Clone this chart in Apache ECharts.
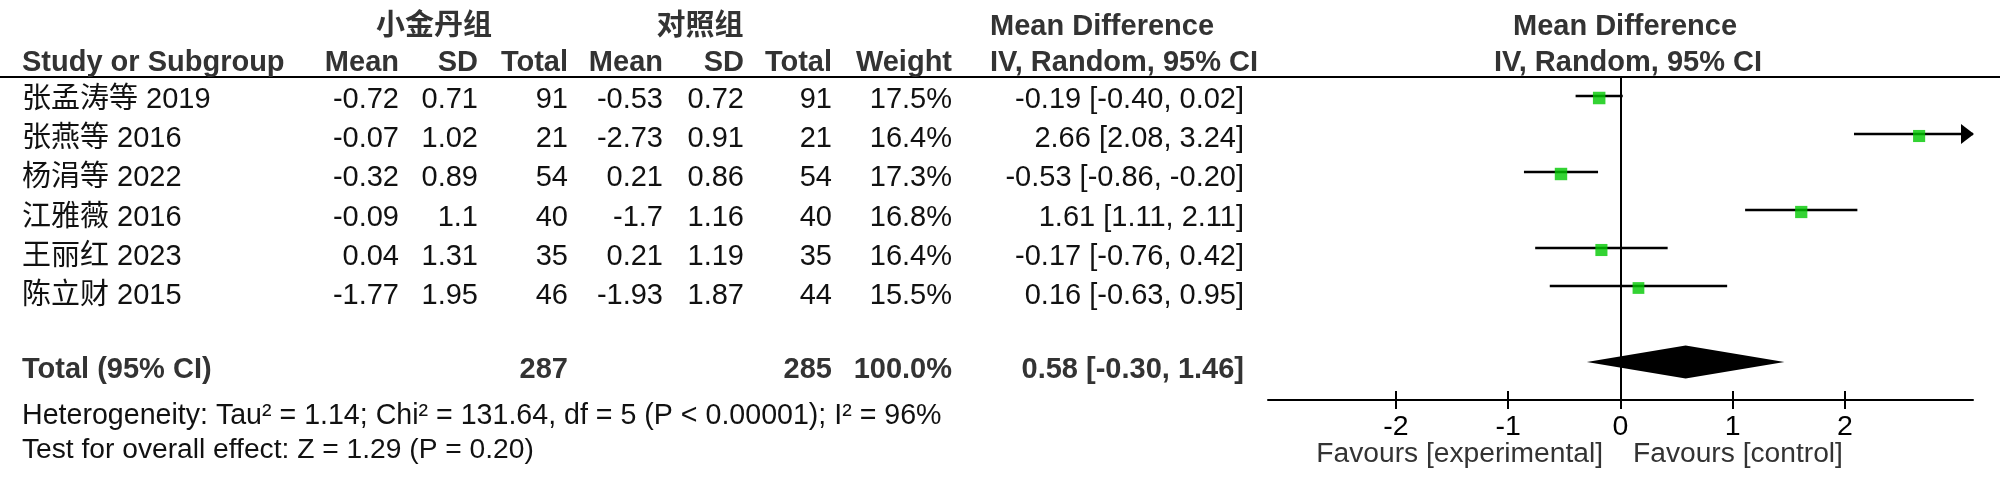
<!DOCTYPE html>
<html><head><meta charset="utf-8">
<script src="https://cdn.jsdelivr.net/npm/echarts@6/dist/echarts.min.js"></script>
<style>html,body{margin:0;padding:0;background:#fff}#c{width:2000px;height:495px}</style>
</head><body><div id="c"></div>
<script>
// ---- data ----
const studies = ['张孟涛等 2019','张燕等 2016','杨涓等 2022','江雅薇 2016','王丽红 2023','陈立财 2015'];
const expMean = ['-0.72','-0.07','-0.32','-0.09','0.04','-1.77'];
const expSD   = ['0.71','1.02','0.89','1.1','1.31','1.95'];
const expN    = [91,21,54,40,35,46];
const ctlMean = ['-0.53','-2.73','0.21','-1.7','0.21','-1.93'];
const ctlSD   = ['0.72','0.91','0.86','1.16','1.19','1.87'];
const ctlN    = [91,21,54,40,35,44];
const weights = [17.5,16.4,17.3,16.8,16.4,15.5];
const md      = [-0.19,2.66,-0.53,1.61,-0.17,0.16];
const ciLo    = [-0.40,2.08,-0.86,1.11,-0.76,-0.63];
const ciHi    = [0.02,3.24,-0.20,2.11,0.42,0.95];
const totalMD = 0.58, totalLo = -0.30, totalHi = 1.46;
const totalExpN = 287, totalCtlN = 285, totalWeight = '100.0%';
const xTicks = [-2,-1,0,1,2];
const groupHeaders = ['小金丹组','对照组'];
const colHeaders = ['Mean','SD','Total','Mean','SD','Total','Weight'];
const heterogeneity = 'Heterogeneity: Tau² = 1.14; Chi² = 131.64, df = 5 (P < 0.00001); I² = 96%';
const overallTest = 'Test for overall effect: Z = 1.29 (P = 0.20)';
const favours = ['Favours [experimental]','Favours [control]'];

// ---- layout ----
const FONT = "'Liberation Sans', Arial, 'Noto Sans CJK SC', sans-serif";
const FS = 29;
const XMIN = -3.14, XMAX = 3.14;
const rowY = studies.map((_, i) => i + 0.5);
const totalY = 7.5;
const colRight = [399, 478, 568, 663, 744, 832, 952];
const ciRight = 1244;
const textLeft = 22;
const textRowTop = 100, textRowStep = 39.2, totalTextY = 370;
const fmt = v => v.toFixed(2);
const ciText = (m, l, h) => fmt(m) + ' [' + fmt(l) + ', ' + fmt(h) + ']';

const chart = echarts.init(document.getElementById('c'), null, {renderer: 'canvas'});
const option = {
  animation: false,
  backgroundColor: '#fff',
  grid: {left: 1268, width: 705, top: 77, bottom: 95, containLabel: false},
  xAxis: [{
    type: 'value', min: XMIN, max: XMAX, position: 'bottom',
    axisLine: {show: true, onZero: false, lineStyle: {color: '#000', width: 2}},
    axisTick: {show: true, customValues: xTicks, length: 9, lineStyle: {color: '#000', width: 2}},
    axisLabel: {show: true, customValues: xTicks, fontSize: 28.5, fontFamily: FONT, color: '#000', margin: 13},
    splitLine: {show: false}
  }, {
    type: 'value', min: XMIN, max: XMAX, position: 'bottom',
    axisLine: {show: false, onZero: false},
    axisTick: {show: true, inside: true, customValues: xTicks, length: 9, lineStyle: {color: '#000', width: 2}},
    axisLabel: {show: false},
    splitLine: {show: false}
  }],
  yAxis: {type: 'value', min: 0, max: 8.5, inverse: true, show: false},
  series: [{
    type: 'custom',
    name: 'ci',
    data: ciLo.map((l, i) => [l, ciHi[i], rowY[i]]),
    encode: {x: [0, 1], y: 2},
    renderItem: function (params, api) {
      const lo = api.value(0), hi = api.value(1), y = api.value(2);
      const p1 = api.coord([Math.max(lo, XMIN), y]);
      const p2 = api.coord([Math.min(hi, XMAX), y]);
      const children = [{type: 'line', shape: {x1: p1[0], y1: p1[1], x2: p2[0], y2: p2[1]},
        style: {stroke: '#000', lineWidth: 2.5}}];
      if (hi > XMAX) {
        children.push({type: 'polygon', shape: {points: [[p2[0] + 1, p2[1]], [p2[0] - 12, p2[1] - 10], [p2[0] - 12, p2[1] + 10]]},
          style: {fill: '#000'}});
      }
      return {type: 'group', children: children};
    },
    z: 2
  }, {
    type: 'scatter',
    name: 'md',
    data: md.map((m, i) => [m, rowY[i], weights[i]]),
    symbol: 'rect',
    symbolSize: v => 12.5 * Math.sqrt(v[2] / 17.5),
    symbolOffset: [0, 2],
    itemStyle: {color: '#00c800'},
    z: 3,
    markLine: {
      silent: true, symbol: 'none', label: {show: false},
      lineStyle: {color: '#000', width: 2, type: 'solid'},
      data: [{xAxis: 0}]
    }
  }, {
    type: 'custom',
    name: 'total',
    data: [[totalLo, totalMD, totalHi, totalY]],
    encode: {x: [0, 1, 2], y: 3},
    renderItem: function (params, api) {
      const y = api.value(3);
      const a = api.coord([api.value(0), y]);
      const m = api.coord([api.value(1), y]);
      const b = api.coord([api.value(2), y]);
      return {type: 'polygon', shape: {points: [a, [m[0], m[1] - 16.5], b, [m[0], m[1] + 16.5]]},
        style: {fill: '#000'}};
    },
    z: 4
  }]
};
chart.setOption(option);

// ---- text table ----
const py = v => chart.convertToPixel({yAxisIndex: 0}, v);
function T(text, x, y, align, bold, color, size) {
  return {type: 'text', x: x, y: y, silent: true,
    style: {text: String(text), fill: color || '#000', textAlign: align || 'left', verticalAlign: 'middle',
      font: (bold ? 'bold ' : '') + (size || FS) + 'px ' + FONT}};
}
const g = [];
const headerLineY = py(0);
g.push({type: 'line', shape: {x1: 0, y1: headerLineY, x2: 2000, y2: headerLineY}, style: {stroke: '#000', lineWidth: 2}, silent: true});
// header row 1
g.push(T(groupHeaders[0], 434, 27, 'center', true, '#333'));
g.push(T(groupHeaders[1], 700, 27, 'center', true, '#333'));
g.push(T('Mean Difference', 990, 27, 'left', true, '#333'));
g.push(T('Mean Difference', 1625, 27, 'center', true, '#333'));
// header row 2
g.push(T('Study or Subgroup', textLeft, 63, 'left', true, '#333'));
colHeaders.forEach((h, k) => g.push(T(h, colRight[k], 63, 'right', true, '#333')));
g.push(T('IV, Random, 95% CI', 990, 63, 'left', true, '#333'));
g.push(T('IV, Random, 95% CI', 1628, 63, 'center', true, '#333'));
// study rows
studies.forEach((s, i) => {
  const y = textRowTop + i * textRowStep;
  const vals = [expMean[i], expSD[i], expN[i], ctlMean[i], ctlSD[i], ctlN[i], weights[i].toFixed(1) + '%'];
  g.push(T(s, textLeft, y, 'left', false, '#111'));
  vals.forEach((v, k) => g.push(T(v, colRight[k], y, 'right', false, '#111')));
  g.push(T(ciText(md[i], ciLo[i], ciHi[i]), ciRight, y, 'right', false, '#111'));
});
// total row
g.push(T('Total (95% CI)', textLeft, totalTextY, 'left', true, '#333'));
g.push(T(totalExpN, colRight[2], totalTextY, 'right', true, '#333'));
g.push(T(totalCtlN, colRight[5], totalTextY, 'right', true, '#333'));
g.push(T(totalWeight, colRight[6], totalTextY, 'right', true, '#333'));
g.push(T(ciText(totalMD, totalLo, totalHi), ciRight, totalTextY, 'right', true, '#333'));
// footnotes
g.push(T(heterogeneity, textLeft, 416, 'left', false, '#111', 28.6));
g.push(T(overallTest, textLeft, 450, 'left', false, '#111', 28.2));
// favours
g.push(T(favours[0], 1603, 454, 'right', false, '#333', 28.2));
g.push(T(favours[1], 1633, 454, 'left', false, '#333', 28.2));
chart.setOption({graphic: g});
</script>
</body></html>
